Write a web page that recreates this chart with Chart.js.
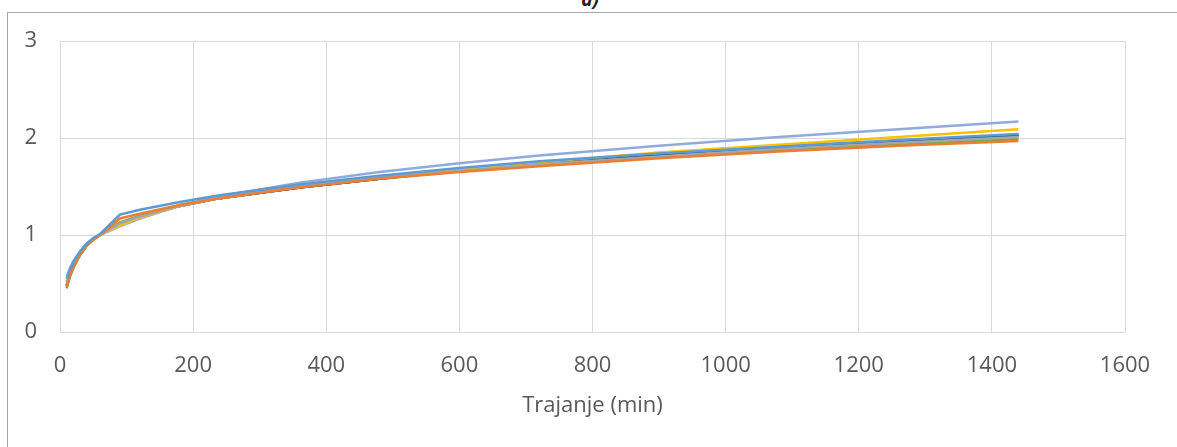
<!DOCTYPE html>
<html>
<head>
<meta charset="utf-8">
<script src="https://cdn.jsdelivr.net/npm/chart.js@4.4.1/dist/chart.umd.min.js"></script>
<style>
    html, body { margin: 0; padding: 0; background: #fff; overflow: hidden; }
    #wrap { position: relative; width: 1177px; height: 447px; overflow: hidden; }
    #frame { position: absolute; left: 7px; top: 12px; width: 1400px; height: 600px; border: 1px solid #a6a6a6; }
    #title { position: absolute; left: 560px; width: 60px; top: -11px; text-align: center;
             font: italic bold 19px "Open Sans", sans-serif; line-height: 20px; color: #222; }
    #chart { position: absolute; left: 0; top: 0; }
</style>
</head>
<body>
<div id="wrap">
    <div id="frame"></div>
    <div id="title">a)</div>
    <canvas id="chart" width="1177" height="447"></canvas>
</div>
<script>
// trajanje kiše (min)
const durations = [10, 15, 20, 30, 40, 50, 60, 90, 120, 180, 240, 360, 480, 600, 720, 900, 1080, 1260, 1440];

// odnosi za svaku seriju (očitano sa grafika)
const serija1 = [0.55, 0.64, 0.72, 0.83, 0.91, 0.97, 1.01, 1.21, 1.26, 1.34, 1.41, 1.52, 1.61, 1.69, 1.76, 1.84, 1.91, 1.98, 2.04];
const serija2 = [0.47, 0.58, 0.67, 0.80, 0.89, 0.95, 1.00, 1.17, 1.22, 1.31, 1.38, 1.49, 1.58, 1.65, 1.71, 1.79, 1.86, 1.92, 1.97];
const serija3 = [0.50, 0.60, 0.69, 0.81, 0.90, 0.96, 1.00, 1.12, 1.19, 1.30, 1.38, 1.50, 1.59, 1.66, 1.73, 1.81, 1.89, 1.95, 2.01];
const serija4 = [0.52, 0.62, 0.70, 0.82, 0.90, 0.96, 1.00, 1.10, 1.18, 1.30, 1.38, 1.50, 1.60, 1.68, 1.75, 1.85, 1.93, 2.01, 2.09];
const serija5 = [0.57, 0.66, 0.73, 0.83, 0.91, 0.96, 1.00, 1.09, 1.17, 1.30, 1.40, 1.54, 1.65, 1.74, 1.82, 1.92, 2.01, 2.09, 2.17];
const serija6 = [0.45, 0.57, 0.66, 0.79, 0.89, 0.95, 1.00, 1.13, 1.20, 1.31, 1.39, 1.50, 1.59, 1.66, 1.72, 1.80, 1.87, 1.93, 1.99];
const serija7 = [0.47, 0.58, 0.67, 0.80, 0.89, 0.95, 1.00, 1.11, 1.19, 1.30, 1.38, 1.49, 1.58, 1.66, 1.73, 1.82, 1.90, 1.96, 2.02];
const serija8 = [0.48, 0.59, 0.68, 0.81, 0.90, 0.96, 1.00, 1.11, 1.19, 1.30, 1.38, 1.49, 1.58, 1.67, 1.74, 1.83, 1.91, 1.97, 2.03];

const seriesNames = ['Serija 1', 'Serija 2', 'Serija 3', 'Serija 4', 'Serija 5', 'Serija 6', 'Serija 7', 'Serija 8'];
const seriesValues = [serija1, serija2, serija3, serija4, serija5, serija6, serija7, serija8];
const seriesColors = ['#5b9bd5', '#ed7d31', '#a5a5a5', '#ffc000', '#8faadc', '#70ad47', '#264478', '#262626'];

const xTicks = [0, 200, 400, 600, 800, 1000, 1200, 1400, 1600];
const yTicks = [0, 1, 2, 3];

const font = { family: '"Open Sans", sans-serif', size: 22 };

new Chart(document.getElementById('chart'), {
    type: 'line',
    data: {
        datasets: seriesValues.map((vals, i) => ({
            label: seriesNames[i],
            data: vals.map((v, j) => ({ x: durations[j], y: v })),
            borderColor: seriesColors[i],
            backgroundColor: seriesColors[i],
            borderWidth: 2.5,
            pointRadius: 0,
            tension: 0,
            fill: false
        }))
    },
    options: {
        responsive: false,
        animation: false,
        layout: { padding: { left: 0, top: 41, right: 52, bottom: 28 } },
        plugins: {
            legend: { display: false },
            tooltip: { enabled: false }
        },
        scales: {
            x: {
                type: 'linear',
                min: xTicks[0],
                max: xTicks[xTicks.length - 1],
                afterBuildTicks: s => { s.ticks = xTicks.map(v => ({ value: v })); },
                afterFit: s => { s.height = 87; },
                grid: { color: '#d9d9d9', lineWidth: 1, drawTicks: false },
                border: { display: false },
                ticks: { color: '#595959', font: font, padding: 21, maxRotation: 0, callback: v => String(v) },
                title: { display: true, text: 'Trajanje (min)', color: '#595959', font: font, padding: { top: 13, bottom: 0 } }
            },
            y: {
                min: yTicks[0],
                max: yTicks[yTicks.length - 1],
                afterBuildTicks: s => { s.ticks = yTicks.map(v => ({ value: v })); },
                afterFit: s => { s.width = 60; },
                grid: { color: '#d9d9d9', lineWidth: 1, drawTicks: false },
                border: { display: false },
                ticks: { color: '#595959', font: font, padding: 23, callback: v => String(v) }
            }
        }
    }
});
</script>
</body>
</html>
